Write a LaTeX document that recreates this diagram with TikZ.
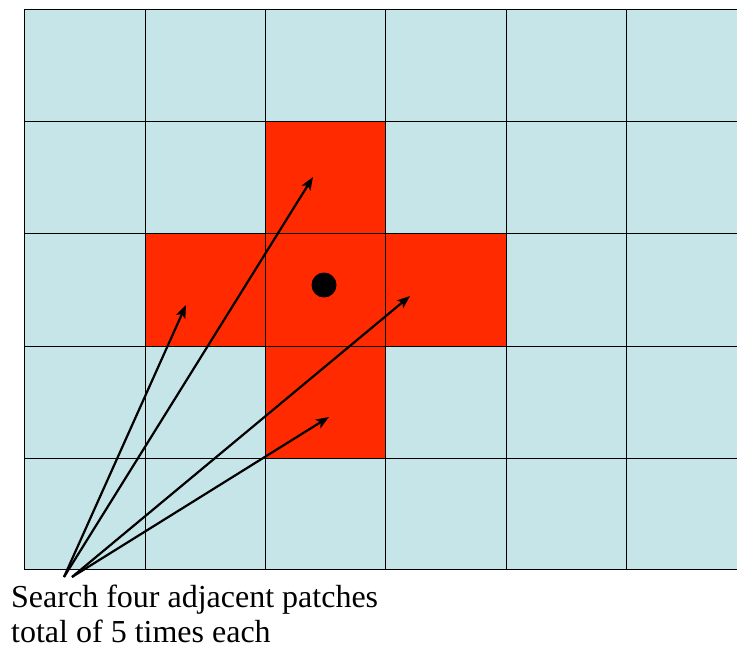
\documentclass[tikz,border=0pt]{standalone}
\usepackage{fontspec}
\setmainfont{Liberation Serif}
\usepackage{xcolor}
\usepackage{tikz}
\usetikzlibrary{arrows.meta}
\definecolor{patchblue}{RGB}{198,229,232}
\definecolor{patchred}{RGB}{255,42,0}
\tikzset{
  patch/.style={fill=patchred, draw=none},
  gridline/.style={black, line width=1pt},
  search/.style={-{Stealth[length=13pt,width=10pt,inset=3pt]}, line width=2.2pt}
}

\begin{document}
\begin{tikzpicture}[x=1pt, y=-1pt]
  \useasboundingbox (0,0) rectangle (737,650);
  % Background field
  \fill[patchblue] (24,10) rectangle (737,569);
  % Searched patches (cross)
  \fill[patch] (265,122) rectangle (385,234);
  \fill[patch] (145,234) rectangle (506,346);
  \fill[patch] (265,346) rectangle (385,458);
  % Grid
  \foreach \x in {24,145,265,385,506,626}
    \draw[gridline] (\x,10) -- (\x,569);
  \foreach \y in {10,122,234,346,458,569}
    \draw[gridline] (24,\y) -- (737,\y);
  % Current position
  \fill[black] (324,285) circle (12.5);
  % Label and arrows
  \node[anchor=base west, align=left, inner sep=0pt, font=\fontsize{32}{35}\selectfont]
    (label) at (11,642) {Search four adjacent patches\\total of 5 times each};
  \coordinate (s1) at (64,577);
  \coordinate (s2) at (72,577);
  \coordinate (left) at (186,305);
  \coordinate (up) at (313,177);
  \coordinate (right) at (410,296);
  \coordinate (down) at (329,417);
  \draw[search] (s1) -- (left);
  \draw[search] (s1) -- (up);
  \draw[search] (s2) -- (right);
  \draw[search] (s2) -- (down);
\end{tikzpicture}
\end{document}
